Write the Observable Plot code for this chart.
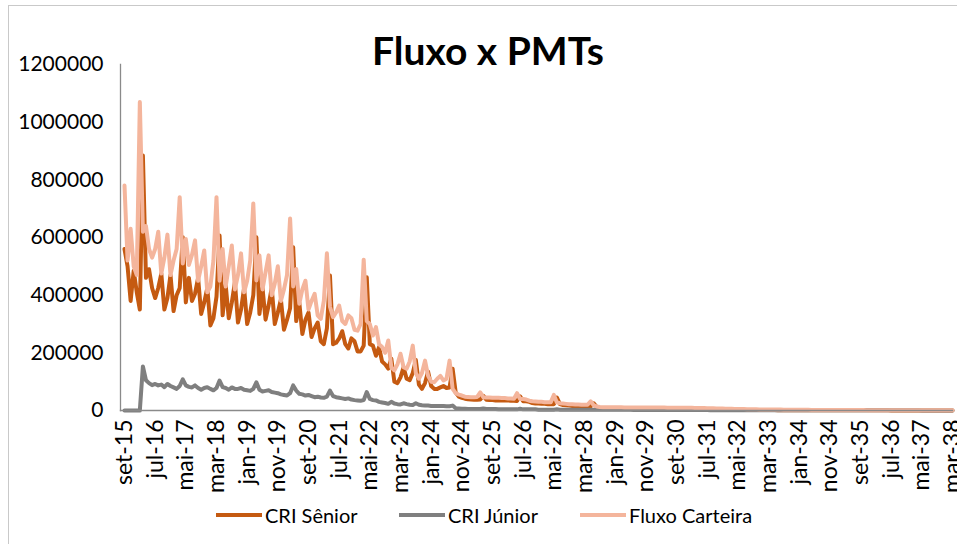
<!DOCTYPE html>
<html>
<head>
<meta charset="utf-8">
<script src="https://cdn.jsdelivr.net/npm/d3@7"></script>
<script src="https://cdn.jsdelivr.net/npm/@observablehq/plot@0.6"></script>
<style>
  html, body { margin: 0; padding: 0; background: #fff; }
  #wrap { position: relative; width: 957px; height: 544px; overflow: hidden; background: #fff; font-family: Lato, "Open Sans", sans-serif; }
  #border { position: absolute; left: 8px; top: 5px; width: 1200px; height: 800px; border-left: 1px solid #c9c9c9; border-top: 1px solid #c9c9c9; }
  #chart { position: absolute; left: 0; top: 0; }
  #title { position: absolute; left: 0; top: 31px; width: 976px; text-align: center; font-size: 39px; font-weight: bold; line-height: 39px; color: #000; }
  .leg { position: absolute; top: 503px; height: 24px; display: flex; align-items: center; font-size: 20px; color: #000; white-space: nowrap; }
  .leg span.sw { display: inline-block; width: 46px; height: 4px; margin-right: 3px; }
</style>
</head>
<body>
<div id="wrap">
  <div id="border"></div>
  <div id="chart"></div>
  <div id="title">Fluxo x PMTs</div>
  <div id="legend"></div>
</div>
<script>
// Series names and colours
const seriesNames = ["CRI Sênior", "CRI Júnior", "Fluxo Carteira"];
const seriesColors = ["#C55A11", "#7F7F7F", "#F4B59C"];

// Axis tick labels (one every 10 months, starting set-15)
const tickLabels = ["set-15","jul-16","mai-17","mar-18","jan-19","nov-19","set-20","jul-21","mai-22","mar-23","jan-24","nov-24","set-25","jul-26","mai-27","mar-28","jan-29","nov-29","set-30","jul-31","mai-32","mar-33","jan-34","nov-34","set-35","jul-36","mai-37","mar-38"];
const yTicks = [0, 200000, 400000, 600000, 800000, 1000000, 1200000];

// Monthly values, in thousands, from set-15 (index 0) to mar-38 (index 270)
const fluxoCarteira = [
  780,520,630,500,470,1070,620,640,560,530,
  560,620,475,530,610,470,520,560,740,510,
  595,505,540,590,450,500,555,410,430,520,
  740,450,560,430,500,572,420,470,545,410,
  450,520,718,451,538,420,480,538,400,440,
  500,380,420,470,666,430,491,370,420,450,
  350,380,405,330,318,380,545,360,324,340,
  364,310,300,330,320,280,277,300,523,310,
  300,260,289,230,220,200,243,150,139,160,
  197,150,145,170,225,130,110,130,173,120,
  100,98,110,120,104,110,173,75,60,55,
  52,48,47,46,46,47,63,46,45,45,
  44,44,44,43,43,42,42,41,60,40,
  40,38,34,32,31,30,30,29,29,29,
  54,28,25,24,23,22,22,21,21,20,
  20,20,32,18,14,12,11.5,11.3,11.2,11.1,
  11.0,11.0,10.9,10.8,10.8,10.7,10.6,10.6,10.5,10.4,
  10.4,10.3,10.2,10.2,10.1,10.0,10.0,9.9,9.8,9.8,
  9.7,9.6,9.5,9.4,9.3,9.2,9.0,8.8,8.6,8.4,
  8.2,7.9,7.6,7.3,7.0,6.7,6.4,6.1,5.8,5.5,
  5.3,5.1,4.9,4.7,4.5,4.3,4.1,3.9,3.7,3.6,
  3.5,3.4,3.3,3.2,3.1,3.0,2.9,2.8,2.7,2.6,
  2.5,2.4,2.3,2.2,2.1,2.0,2.0,1.9,1.9,1.8,
  1.8,1.8,1.7,1.7,1.6,1.6,1.5,1.5,1.5,1.4,
  1.4,1.4,1.3,1.3,1.3,1.2,1.2,1.2,1.1,1.1,
  1.1,1.0,1.0,1.0,0.9,0.9,0.9,0.9,0.8,0.8,
  0.8,0.8,0.7,0.7,0.7,0.7,0.6,0.6,0.6,0.5,
  0.5
];
const criSenior = [
  560,500,380,485,410,350,884,460,490,425,
  390,425,475,350,390,470,345,400,425,601,
  375,460,380,405,460,335,375,425,295,320,
  395,607,330,435,320,375,445,305,350,425,
  300,340,400,601,335,425,315,365,425,300,
  340,385,280,315,355,566,310,375,265,315,
  340,255,285,305,240,230,285,468,230,235,
  250,275,230,215,250,240,205,205,225,462,
  230,225,190,220,170,160,145,180,100,95,
  115,150,110,105,130,175,90,75,95,135,
  85,75,75,80,85,78,80,145,62,48,
  44,41,39,38,37,37,38,51,37,36,
  36,35,35,35,35,35,34,34,33,49,
  32,32,30,26,24,24,23,23,22,22,
  22,45,22,19,18,17,16,16,15,15,
  14,14,14,25,12,9,7.5,7.3,7.2,7.1,
  7.0,7.0,6.9,6.8,6.8,6.7,6.6,6.6,6.5,6.4,
  6.4,6.3,6.2,6.2,6.1,6.0,6.0,5.9,5.8,5.8,
  5.7,5.6,5.5,5.4,5.3,5.2,5.0,4.8,4.6,4.4,
  4.2,4.0,3.8,3.6,3.4,3.2,3.0,2.8,2.6,2.4,
  2.3,2.2,2.1,2.0,1.9,1.8,1.7,1.6,1.5,1.5,
  1.4,1.4,1.3,1.3,1.2,1.2,1.1,1.1,1.0,1.0,
  1.0,0.9,0.9,0.9,0.8,0.8,0.8,0.7,0.7,0.7,
  0.7,0.6,0.6,0.6,0.6,0.6,0.6,0.6,0.6,0.6,
  0.5,0.5,0.5,0.5,0.5,0.5,0.5,0.5,0.5,0.5,
  0.4,0.4,0.4,0.4,0.4,0.4,0.4,0.4,0.4,0.4,
  0.3,0.3,0.3,0.3,0.3,0.3,0.3,0.3,0.3,0.3,
  0.3
];
const criJunior = [
  0,0,0,0,0,0,153,105,95,88,
  92,87,90,81,92,85,80,75,85,108,
  87,82,80,87,78,72,78,81,75,70,
  78,104,81,78,72,80,75,75,78,72,
  70,68,75,98,72,66,68,70,64,62,
  60,56,54,52,60,87,69,58,56,52,
  54,50,46,48,45,44,48,69,50,46,
  44,42,40,42,38,36,35,34,36,64,
  40,36,35,30,28,26,23,30,24,22,
  21,25,22,20,19,25,20,18,17,17,
  16,16,16,16,16,15,15,17,8,7,
  6,6,5,5,5,5,5,7,5,5,
  5,5,4,4,4,4,4,4,4,6,
  4,4,4,4,4,3,3,3,3,3,
  3,4,3,3,3,3,3,3,3,3,
  3,3,3,3,3,2.5,2.5,2.4,2.4,2.4,
  2.3,2.3,2.3,2.2,2.2,2.2,2.1,2.1,2.1,2.0,
  2.0,2.0,1.9,1.9,1.9,1.8,1.8,1.8,1.7,1.7,
  1.7,1.6,1.6,1.6,1.5,1.5,1.5,1.4,1.4,1.4,
  1.3,1.3,1.3,1.2,1.2,1.2,1.1,1.1,1.1,1.0,
  1.0,1.0,1.0,1.0,1.0,1.0,1.0,1.0,1.0,1.0,
  0.9,0.9,0.9,0.9,0.9,0.9,0.9,0.9,0.9,0.9,
  0.8,0.8,0.8,0.8,0.8,0.8,0.8,0.8,0.8,0.8,
  0.7,0.7,0.7,0.7,0.7,0.7,0.7,0.7,0.7,0.7,
  0.6,0.6,0.6,0.6,0.6,0.6,0.6,0.6,0.6,0.6,
  0.5,0.5,0.5,0.5,0.5,0.5,0.5,0.5,0.5,0.5,
  0.4,0.4,0.4,0.4,0.4,0.4,0.4,0.4,0.4,0.4,
  0.4
];

// Long table for Plot (values converted from thousands)
const seriesValues = [criSenior, criJunior, fluxoCarteira];
const rows = [];
seriesValues.forEach((arr, s) => arr.forEach((v, i) => rows.push({i, serie: seriesNames[s], v: v * 1000})));

const chart = Plot.plot({
  width: 957,
  height: 544,
  marginLeft: 120,
  marginRight: 5,
  marginTop: 64,
  marginBottom: 134,
  style: {fontFamily: "Lato, 'Open Sans', sans-serif", fontSize: "21px", color: "#000", background: "transparent", overflow: "visible"},
  x: {domain: [0, fluxoCarteira.length - 1], insetLeft: 4},
  y: {domain: [0, 1200000]},
  color: {domain: seriesNames, range: seriesColors},
  marks: [
    Plot.axisY({ticks: yTicks, tickSize: 0, tickPadding: 17, tickFormat: d3.format("d"), label: null, fontSize: 21}),
    Plot.axisX({ticks: d3.range(0, fluxoCarteira.length, 10), tickSize: 0, tickPadding: 9, tickRotate: -90,
                tickFormat: i => tickLabels[i / 10], label: null, fontSize: 23}),
    Plot.line(rows, {x: "i", y: "v", z: "serie", stroke: "serie", strokeWidth: 4, strokeLinejoin: "round", strokeLinecap: "round"}),
    Plot.frame({anchor: "left", stroke: "#8a8a8a", strokeWidth: 1.3}),
    Plot.frame({anchor: "bottom", stroke: "#8a8a8a", strokeWidth: 1.3})
  ]
});
document.getElementById("chart").appendChild(chart);

// Legend
const legendLeft = [216, 399, 580];
const legend = document.getElementById("legend");
seriesNames.forEach((name, k) => {
  const d = document.createElement("div");
  d.className = "leg";
  d.style.left = legendLeft[k] + "px";
  d.innerHTML = `<span class="sw" style="background:${seriesColors[k]}"></span><span>${name}</span>`;
  legend.appendChild(d);
});
</script>
</body>
</html>
